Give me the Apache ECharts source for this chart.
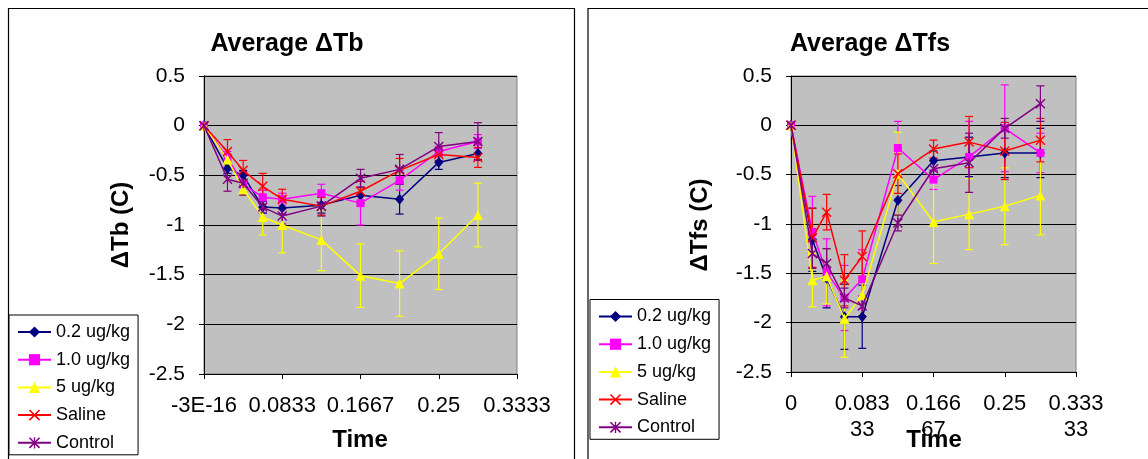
<!DOCTYPE html>
<html><head><meta charset="utf-8">
<script src="https://cdn.jsdelivr.net/npm/echarts@6/dist/echarts.min.js"></script>
<style>html,body{margin:0;padding:0;background:#fff}#c{width:1148px;height:459px}</style>
</head><body><div id="c"></div>
<script>
// ---- data ----
const times = [0, 0.025, 0.0417, 0.0625, 0.0833, 0.125, 0.1667, 0.2083, 0.25, 0.2917];
const seriesNames = ['0.2 ug/kg', '1.0 ug/kg', '5 ug/kg', 'Saline', 'Control'];
const yTicks = [-2.5, -2, -1.5, -1, -0.5, 0, 0.5];
const xLabelsTb = ['-3E-16', '0.0833', '0.1667', '0.25', '0.3333'];
const xLabelsTfs = ['0', '0.083\n33', '0.166\n67', '0.25', '0.333\n33'];

const tb02  = [0, -0.43, -0.50, -0.82, -0.83, -0.80, -0.70, -0.74, -0.37, -0.28];
const tb10  = [0, -0.32, -0.59, -0.72, -0.74, -0.68, -0.78, -0.55, -0.26, -0.16];
const tb5   = [0, -0.34, -0.64, -0.92, -1.00, -1.15, -1.51, -1.59, -1.29, -0.90];
const tbSal = [0, -0.26, -0.45, -0.61, -0.74, -0.81, -0.66, -0.45, -0.29, -0.32];
const tbCon = [0, -0.54, -0.58, -0.82, -0.91, -0.81, -0.53, -0.44, -0.21, -0.16];

const tb02Err  = [0, 0.05, 0.05, 0.06, 0.06, 0.08, 0.08, 0.15, 0.07, 0.06];
const tb10Err  = [0, 0.06, 0.10, 0.07, 0.06, 0.09, 0.22, 0.10, 0.05, 0.07];
const tb5Err   = [0, 0.05, 0.06, 0.18, 0.28, 0.31, 0.32, 0.33, 0.36, 0.32];
const tbSalErr = [0, 0.12, 0.10, 0.13, 0.10, 0.09, 0.10, 0.12, 0.07, 0.10];
const tbConErr = [0, 0.12, 0.12, 0.06, 0.08, 0.10, 0.09, 0.15, 0.14, 0.19];

const tfs02  = [0, -1.16, -1.55, -1.94, -1.94, -0.76, -0.36, -0.32, -0.28, -0.28];
const tfs10  = [0, -1.08, -1.49, -1.75, -1.56, -0.23, -0.55, -0.32, -0.03, -0.28];
const tfs5   = [0, -1.57, -1.53, -1.96, -1.72, -0.49, -0.98, -0.90, -0.82, -0.71];
const tfsSal = [0, -1.14, -0.88, -1.57, -1.33, -0.49, -0.24, -0.17, -0.26, -0.15];
const tfsCon = [0, -1.30, -1.40, -1.75, -1.83, -0.99, -0.44, -0.38, -0.03, 0.22];

const tfs02Err  = [0, 0.32, 0.30, 0.33, 0.32, 0.15, 0.10, 0.20, 0.25, 0.25];
const tfs10Err  = [0, 0.36, 0.34, 0.33, 0.30, 0.27, 0.10, 0.36, 0.44, 0.20];
const tfs5Err   = [0, 0.27, 0.28, 0.39, 0.20, 0.42, 0.42, 0.36, 0.39, 0.40];
const tfsSalErr = [0, 0.30, 0.18, 0.26, 0.26, 0.20, 0.09, 0.26, 0.29, 0.22];
const tfsConErr = [0, 0.15, 0.15, 0.10, 0.10, 0.08, 0.10, 0.30, 0.10, 0.18];

// ---- styles ----
const FONT = '"Liberation Sans", Arial, sans-serif';
const colors = ['#000080', '#FF00FF', '#FFFF00', '#FF0000', '#800080'];
const X_PATH = 'path://M0,1 L1,0 L5,4 L9,0 L10,1 L6,5 L10,9 L9,10 L5,6 L1,10 L0,9 L4,5 Z';
const AST_PATH = 'path://M0,1 L1,0 L5,4 L9,0 L10,1 L6,5 L10,9 L9,10 L5,6 L1,10 L0,9 L4,5 Z M4.4,0 L5.6,0 L5.6,10 L4.4,10 Z';
const symbols = ['diamond', 'rect', 'triangle', X_PATH, AST_PATH];
const symbolSizes = [[9, 11], 8, 10, 10, 10];

const tbVals = [tb02, tb10, tb5, tbSal, tbCon];
const tbErrs = [tb02Err, tb10Err, tb5Err, tbSalErr, tbConErr];
const tfsVals = [tfs02, tfs10, tfs5, tfsSal, tfsCon];
const tfsErrs = [tfs02Err, tfs10Err, tfs5Err, tfsSalErr, tfsConErr];

function lineSeries(k, vals, idx) {
  return {
    type: 'line', name: seriesNames[k], xAxisIndex: idx, yAxisIndex: idx,
    data: times.map((t, i) => [t, vals[i]]),
    symbol: symbols[k], symbolSize: symbolSizes[k],
    itemStyle: { color: colors[k], borderWidth: 0 },
    lineStyle: { color: colors[k], width: 1.5 },
    z: 3 + k * 0.01, animation: false
  };
}
function errSeries(k, vals, errs, idx) {
  return {
    type: 'custom', name: seriesNames[k] + ' err', xAxisIndex: idx, yAxisIndex: idx,
    data: times.map((t, i) => [t, vals[i], errs[i]]),
    encode: { x: 0, y: 1 }, silent: true, z: 2, animation: false,
    renderItem: function (params, api) {
      const x = api.value(0), y = api.value(1), e = api.value(2);
      if (!e) return null;
      const top = api.coord([x, y + e]);
      const bot = api.coord([x, y - e]);
      const w = 4;
      const st = { stroke: colors[k], lineWidth: 1.2 };
      return {
        type: 'group', children: [
          { type: 'line', shape: { x1: top[0], y1: top[1], x2: bot[0], y2: bot[1] }, style: st },
          { type: 'line', shape: { x1: top[0] - w, y1: top[1], x2: top[0] + w, y2: top[1] }, style: st },
          { type: 'line', shape: { x1: bot[0] - w, y1: bot[1], x2: bot[0] + w, y2: bot[1] }, style: st }
        ]
      };
    }
  };
}

function xAxisDef(idx, labels) {
  return {
    type: 'value', gridIndex: idx, min: 0, max: 1 / 3, interval: 1 / 12,
    axisLine: { show: true, onZero: false, lineStyle: { color: '#000', width: 1 } },
    axisTick: { show: true, length: 5, lineStyle: { color: '#000' } },
    splitLine: { show: false },
    axisLabel: {
      color: '#000', fontFamily: FONT, fontSize: 22, lineHeight: 26, margin: 19,
      showMinLabel: true, showMaxLabel: true,
      formatter: (v, i) => labels[i]
    }
  };
}
function yAxisDef(idx) {
  return {
    type: 'value', gridIndex: idx, min: yTicks[0], max: yTicks[yTicks.length - 1], interval: 0.5,
    axisLine: { show: true, onZero: false, lineStyle: { color: '#000', width: 1 } },
    axisTick: { show: true, length: 5, lineStyle: { color: '#000' } },
    splitLine: { show: true, lineStyle: { color: '#000', width: 1 } },
    axisLabel: { color: '#000', fontFamily: FONT, fontSize: 21, margin: 19 }
  };
}
function legendDef(left, top) {
  return {
    orient: 'vertical', left: left, top: top, data: seriesNames,
    itemWidth: 33, itemHeight: 14, itemGap: 9.7,
    padding: [8, 8, 3, 8],
    borderColor: '#000', borderWidth: 1, backgroundColor: '#fff',
    textStyle: { color: '#000', fontFamily: FONT, fontSize: 18, lineHeight: 18 },
    selectedMode: false
  };
}

const series = [];
for (let k = 0; k < 5; k++) series.push(errSeries(k, tbVals[k], tbErrs[k], 0));
for (let k = 0; k < 5; k++) series.push(lineSeries(k, tbVals[k], 0));
for (let k = 0; k < 5; k++) series.push(errSeries(k, tfsVals[k], tfsErrs[k], 1));
for (let k = 0; k < 5; k++) series.push(lineSeries(k, tfsVals[k], 1));

const txt = (text, x, y, font, rot) => ({
  type: 'text', x: x, y: y, rotation: rot || 0, z: 10,
  style: { text: text, font: font, fill: '#000', textAlign: 'center', textVerticalAlign: 'middle' }
});

const chart = echarts.init(document.getElementById('c'));
chart.setOption({
  animation: false,
  backgroundColor: '#fff',
  grid: [
    { left: 204, top: 76, width: 313, height: 298, show: true, backgroundColor: '#C0C0C0', borderColor: '#808080', borderWidth: 1 },
    { left: 791, top: 76, width: 285, height: 296, show: true, backgroundColor: '#C0C0C0', borderColor: '#808080', borderWidth: 1 }
  ],
  xAxis: [xAxisDef(0, xLabelsTb), xAxisDef(1, xLabelsTfs)],
  yAxis: [yAxisDef(0), yAxisDef(1)],
  legend: [legendDef(9, 315), legendDef(590, 299.5)],
  graphic: [
    { type: 'rect', shape: { x: 8.5, y: 8.5, width: 566, height: 480 }, style: { fill: 'none', stroke: '#000', lineWidth: 1.2 }, z: -1, silent: true },
    { type: 'rect', shape: { x: 588, y: 8.5, width: 600, height: 480 }, style: { fill: 'none', stroke: '#000', lineWidth: 1.2 }, z: -1, silent: true },
    txt('Average \u0394Tb', 287, 44, 'bold 25px ' + FONT),
    txt('Average \u0394Tfs', 870, 44, 'bold 25px ' + FONT),
    txt('\u0394Tb (C)', 121, 225, 'bold 24px ' + FONT, Math.PI / 2),
    txt('\u0394Tfs (C)', 700, 225, 'bold 24px ' + FONT, Math.PI / 2),
    txt('Time', 360, 440, 'bold 24px ' + FONT),
    txt('Time', 934, 440, 'bold 24px ' + FONT)
  ],
  series: series
});
</script>
</body></html>
